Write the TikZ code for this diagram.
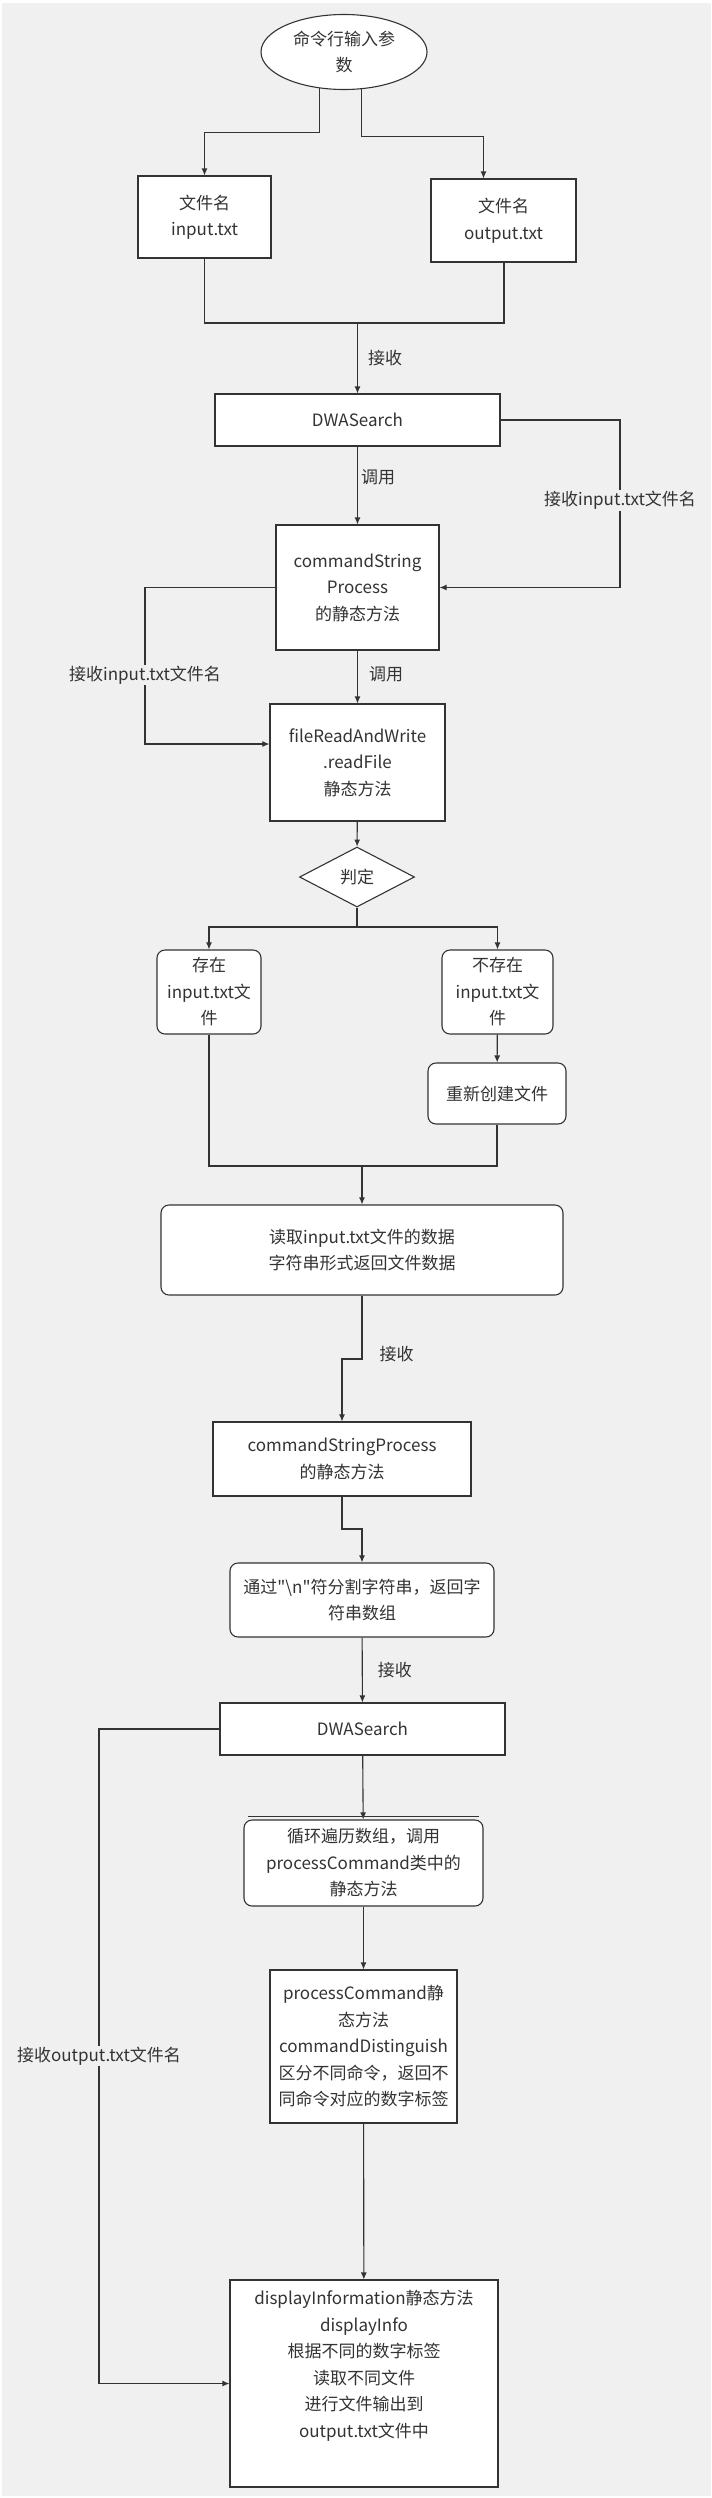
\documentclass[tikz,border=0pt]{standalone}
\usepackage{fontspec}
\setmainfont{Noto Sans CJK SC}[Ligatures=TeXOff]
\usetikzlibrary{arrows.meta,shapes,calc,positioning}
\definecolor{bgcol}{HTML}{F0F0F0}
\definecolor{linecol}{HTML}{333333}

\begin{document}
\begin{tikzpicture}[x=1pt,y=1pt,line width=1.1pt,color=linecol,>={Latex[length=7pt,width=6pt]}]
    \tikzstyle{box}=[rectangle, draw, fill=white, align=center, inner sep=2pt, font=\fontsize{17}{26.5}\selectfont]
    \tikzstyle{rbox}=[box, rounded corners=8pt]
    \tikzstyle{lbl}=[font=\fontsize{17}{26.5}\selectfont, inner sep=1pt]

    \useasboundingbox (0,0) rectangle (712,-2498);
    \fill[bgcol] (2,-3) rectangle (711,-2496);

    \node[box, ellipse, minimum width=166pt, minimum height=75pt] (cmd) at (344,-52) {命令行输入参\\数};
    \node[box, minimum width=133pt, minimum height=82pt] (fin) at (204.5,-217) {文件名\\input.txt};
    \node[box, minimum width=145pt, minimum height=83pt] (fout) at (503.5,-220.5) {文件名\\output.txt};
    \node[box, minimum width=285pt, minimum height=52pt] (dwa1) at (357.5,-420) {DWASearch};
    \node[box, minimum width=163pt, minimum height=125pt] (csp1) at (357.5,-587.5) {commandString\\Process\\的静态方法};
    \node[box, minimum width=175pt, minimum height=117pt] (rf) at (357.5,-762.5) {fileReadAndWrite\\.readFile\\静态方法};
    \node[box, diamond, aspect=2, inner sep=0pt, minimum width=115pt, minimum height=60pt] (judge) at (357,-877) {判定};
    \node[rbox, minimum width=104pt, minimum height=84pt] (ex) at (209,-992) {存在\\input.txt文\\件};
    \node[rbox, minimum width=111pt, minimum height=84pt] (nex) at (497.5,-992) {不存在\\input.txt文\\件};
    \node[rbox, minimum width=138pt, minimum height=61pt] (recreate) at (497,-1093.5) {重新创建文件};
    \node[rbox, minimum width=402pt, minimum height=90pt] (readdata) at (362,-1250) {读取input.txt文件的数据\\字符串形式返回文件数据};
    \node[box, minimum width=258pt, minimum height=74pt] (csp2) at (342,-1459) {commandStringProcess\\的静态方法};
    \node[rbox, minimum width=264pt, minimum height=74pt] (split) at (362,-1600) {通过"\textbackslash n"符分割字符串，返回字\\符串数组};
    \node[box, minimum width=285pt, minimum height=52pt] (dwa2) at (362.5,-1729) {DWASearch};
    \node[rbox, minimum width=239pt, minimum height=86pt] (loop) at (363.5,-1863) {循环遍历数组，调用\\processCommand类中的\\静态方法};
    \node[box, minimum width=187pt, minimum height=153pt] (pc) at (363.5,-2046.5) {processCommand静\\态方法\\commandDistinguish\\区分不同命令，返回不\\同命令对应的数字标签};
    \node[box, minimum width=268pt, minimum height=207pt] (disp) at (364,-2383.5) {};
    \node[lbl, align=center] (disptext) at (364,-2365.5) {displayInformation静态方法\\displayInfo\\根据不同的数字标签\\读取不同文件\\进行文件输出到\\output.txt文件中};
    \draw[line width=0.9pt] ($(loop.north west)+(5,3.5)$) -- ($(loop.north east)+(-5,3.5)$);

    \coordinate (j1) at (357.5,-323);
    \coordinate (rbend) at (620,-420);
    \coordinate (lbend) at (145,-587.5);
    \coordinate (j2) at (357,-927);
    \coordinate (j3) at (362,-1166);
    \coordinate (j4) at (342,-1359);
    \coordinate (j5) at (362,-1529);
    \coordinate (dbend) at (99,-1729);

    \draw[->] (cmd.236) -- ++(0,-44) -| (fin.north);
    \draw[->] (cmd.295) -- ++(0,-47) -| ([xshift=-20pt]fout.north);
    \draw (fin.south) |- (j1);
    \draw ([xshift=0.5pt]fout.south) |- (j1);
    \draw[->] (j1) -- node[lbl, right=9pt]{接收} (dwa1.north);
    \draw[->] (dwa1) -- node[lbl, right=2pt, pos=0.4]{调用} (csp1);
    \draw[->] (dwa1.east) -- (rbend) |- node[lbl, pos=0.24, fill=bgcol]{接收input.txt文件名} (csp1.east);
    \draw[->] (csp1.west) -- (lbend) |- node[lbl, pos=0.28, fill=bgcol]{接收input.txt文件名} ([yshift=18.5pt]rf.west);
    \draw[->] (csp1) -- node[lbl, right=10pt, pos=0.45]{调用} (rf);
    \draw[->] (rf) -- (judge);
    \draw (judge.south) -- (j2);
    \draw[->] (j2) -| (ex.north);
    \draw[->] (j2) -| (nex.north);
    \draw[->] (nex) -- (recreate);
    \draw (ex.south) |- (j3);
    \draw (recreate.south) |- (j3);
    \draw[->] (j3) -- (readdata.north);
    \draw[->] (readdata.south) |- (j4) -- (csp2.north);
    \node[lbl, anchor=west] at ([xshift=36pt,yshift=5pt]j4) {接收};
    \draw[->] (csp2.south) |- (j5) -- (split.north);
    \draw[->] (split) -- node[lbl, right=14pt, pos=0.5]{接收} (dwa2);
    \draw[->] (dwa2.west) -- (dbend) |- node[lbl, pos=0.25, fill=bgcol]{接收output.txt文件名} (disp.west);
    \draw[->] (dwa2) -- (loop);
    \draw[->] (loop) -- (pc);
    \draw[->] (pc) -- (disp);

\end{tikzpicture}
\end{document}
